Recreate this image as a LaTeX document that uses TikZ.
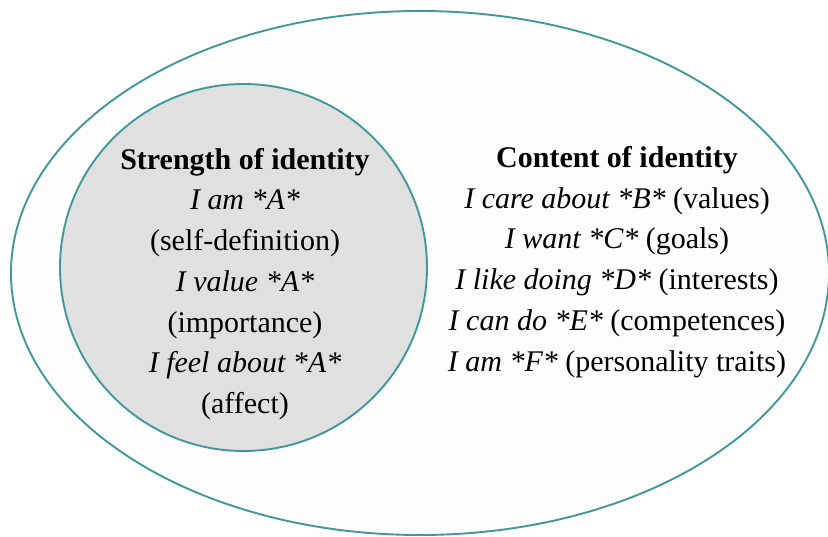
\documentclass[tikz,border=0pt]{standalone}
\usepackage{fontspec}
\setmainfont{Liberation Serif}
\usepackage{xcolor}
\usetikzlibrary{shapes.geometric}
\definecolor{rimteal}{RGB}{64,152,155}
\definecolor{outerfill}{RGB}{253,253,253}
\definecolor{innerfill}{RGB}{224,224,224}
\tikzstyle{outerset} = [ellipse, draw=rimteal, line width=1.9pt, fill=outerfill, minimum width=818pt, minimum height=524pt, inner sep=0pt]
\tikzstyle{innerset} = [circle, draw=rimteal, line width=1.9pt, fill=innerfill, minimum size=367pt, inner sep=0pt]
\tikzstyle{setlabel} = [align=center, font=\fontsize{30}{40.7}\selectfont, inner sep=0pt]

\begin{document}
\begin{tikzpicture}[x=1pt, y=-1pt]
    \useasboundingbox (0,0) rectangle (828,536);
    \node (content) [outerset] at (420,273) {};
    \node (strength) [innerset] at (243.5,267.5) {};

    % text of the two sets
    \node (strengthtext) [setlabel] at (245,284) {\textbf{Strength of identity}\\
        \textit{I am *A*}\\
        (self-definition)\\
        \textit{I value *A*}\\
        (importance)\\
        \textit{I feel about *A*}\\
        (affect)};
    \node (contenttext) [setlabel] at (617,262) {\textbf{Content of identity}\\
        \textit{I care about *B*} (values)\\
        \textit{I want *C*} (goals)\\
        \textit{I like doing *D*} (interests)\\
        \textit{I can do *E*} (competences)\\
        \textit{I am *F*} (personality traits)};
\end{tikzpicture}
\end{document}
